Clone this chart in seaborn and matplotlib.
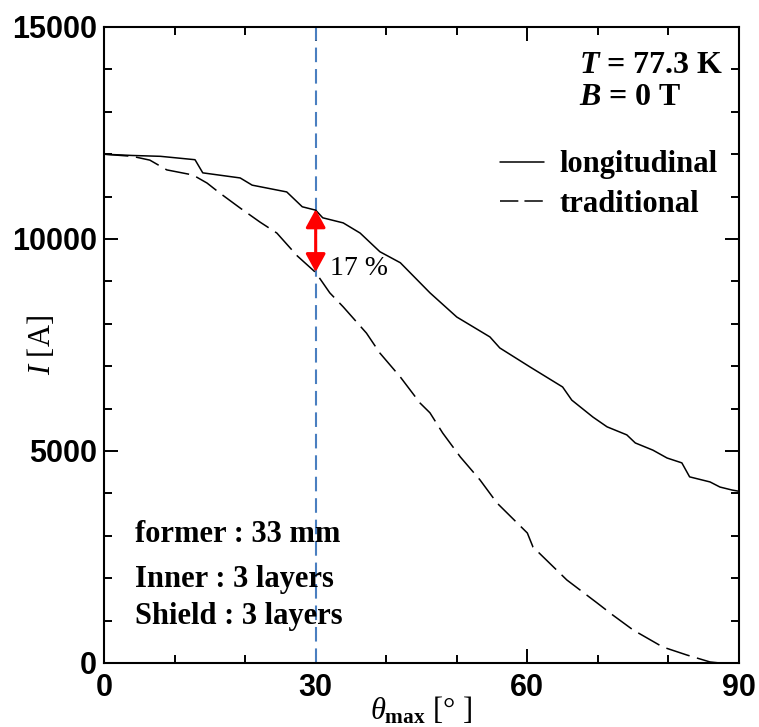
import numpy as np
import pandas as pd
import matplotlib
matplotlib.use("Agg")
import matplotlib.pyplot as plt
import seaborn as sns

# Values
theta_long = [0, 4, 8, 12.9, 14.0, 19.3, 21.0, 25.9, 28.1, 30.0, 31.0, 33.9, 36.3,
              39.1, 42.0, 46.2, 50.0, 54.7, 56.1, 60.4, 65.0, 66.3, 67.5, 69.3,
              71.3, 74.1, 75.3, 77.8, 79.8, 81.9, 83.0, 85.9, 87.3, 89.0, 90.0]
current_long = [12000, 11970, 11950, 11870, 11560, 11440, 11270, 11110, 10760, 10680,
                10500, 10380, 10140, 9700, 9440, 8730, 8160, 7690, 7430, 6980, 6510,
                6200, 6040, 5800, 5570, 5380, 5190, 5020, 4835, 4720, 4390, 4270,
                4150, 4080, 4050]

theta_trad = [0, 4, 6.5, 8.9, 12.6, 14.6, 16.4, 19.3, 22.1, 24.5, 27.4, 30.0, 32.0,
              33.9, 37.2, 39.1, 42.0, 44.8, 46.2, 48.0, 50.5, 53.3, 55.7, 60.0, 60.8,
              65.6, 69.9, 72.1, 75.0, 79.2, 82.6, 85.9, 87.3, 88.5]
current_trad = [12000, 11950, 11860, 11630, 11510, 11320, 11085, 10730, 10400, 10140,
                9600, 9210, 8730, 8400, 7780, 7310, 6745, 6130, 5900, 5425, 4860,
                4316, 3774, 3066, 2736, 1958, 1415, 1132, 778, 377, 189, 24, 0, 0]

gap_theta = 30
gap_top = 10700
gap_bottom = 9220

df_long = pd.DataFrame({"theta": theta_long, "I": current_long})
df_trad = pd.DataFrame({"theta": theta_trad, "I": current_trad})

sns.set_style("ticks")
plt.rcParams["font.family"] = ["Liberation Serif", "DejaVu Serif"]
plt.rcParams["text.color"] = "black"
plt.rcParams["axes.labelcolor"] = "black"
plt.rcParams["xtick.color"] = "black"
plt.rcParams["ytick.color"] = "black"
plt.rcParams["mathtext.fontset"] = "custom"
plt.rcParams["mathtext.rm"] = "Liberation Serif"
plt.rcParams["mathtext.it"] = "Liberation Serif:italic"
plt.rcParams["mathtext.bf"] = "Liberation Serif:bold"
plt.rcParams["mathtext.bfit"] = "Liberation Serif:italic:bold"

fig = plt.figure(figsize=(7.59, 7.27), dpi=100)
ax = fig.add_axes([104 / 759, 64 / 727, 635 / 759, 636 / 727])

sns.lineplot(data=df_long, x="theta", y="I", ax=ax, color="black", lw=1.1,
             label="longitudinal")
sns.lineplot(data=df_trad, x="theta", y="I", ax=ax, color="black", lw=1.1,
             label="traditional")
ax.lines[1].set_dashes([16, 5])

# vertical marker at 30 deg
ax.axvline(gap_theta, color="#4a7fc0", lw=1.5, dashes=(7, 3.3), zorder=1)

# red double arrow
ax.annotate("", xy=(gap_theta, gap_bottom), xytext=(gap_theta, gap_top),
            arrowprops=dict(arrowstyle="<|-|>,head_length=0.55,head_width=0.3",
                            color="red", lw=2.2, shrinkA=0, shrinkB=0,
                            mutation_scale=20))
ax.text(32.0, 9300, "17 %", fontsize=20, va="center", ha="left")

ax.set_xlim(0, 90)
ax.set_ylim(0, 15000)
ax.set_xticks([0, 30, 60, 90])
ax.set_yticks([0, 5000, 10000, 15000])
ax.set_xticks(np.arange(0, 91, 10), minor=True)
ax.set_yticks(np.arange(0, 15001, 1000), minor=True)
ax.tick_params(which="both", direction="in", top=True, right=True, width=1.4,
               color="black")
ax.tick_params(which="major", length=10)
ax.tick_params(which="minor", length=6)
ax.tick_params(axis="x", which="major", pad=7)
ax.tick_params(axis="y", which="major", pad=5)
for lab in ax.get_xticklabels() + ax.get_yticklabels():
    lab.set_fontfamily("Liberation Sans")
    lab.set_fontweight("bold")
    lab.set_fontsize(22)
for sp in ax.spines.values():
    sp.set_linewidth(1.5)
    sp.set_color("black")

ax.set_xlabel(r"$\theta_{\mathbf{max}}$ [° ]", fontsize=22)
ax.set_ylabel(r"$I$ [A]", fontsize=22)
ax.xaxis.set_label_coords(0.5, -0.0755)
ax.yaxis.set_label_coords(-0.098, 0.5)
ax.xaxis.label.set_va("center")
ax.yaxis.label.set_va("center")

ax.text(67.3, 14100, r"$\mathbfit{T}$ = 77.3 K", fontsize=23, fontweight="bold",
        va="center", ha="left")
ax.text(67.3, 13330, r"$\mathbfit{B}$ = 0 T", fontsize=23, fontweight="bold",
        va="center", ha="left")

leg = ax.legend(loc="upper right", bbox_to_anchor=(0.99, 0.83), frameon=False,
                handlelength=1.45, handletextpad=0.5, borderpad=0, labelspacing=0.35,
                prop={"family": "Liberation Serif", "weight": "bold", "size": 22})
leg.get_lines()[1].set_dashes([12, 4])

ax.text(4.4, 3020, "former : 33 mm", fontsize=22, fontweight="bold", va="center")
ax.text(4.4, 1960, "Inner : 3 layers", fontsize=22, fontweight="bold", va="center")
ax.text(4.4, 1085, "Shield : 3 layers", fontsize=22, fontweight="bold", va="center")

fig.savefig("out.png", dpi=100)
